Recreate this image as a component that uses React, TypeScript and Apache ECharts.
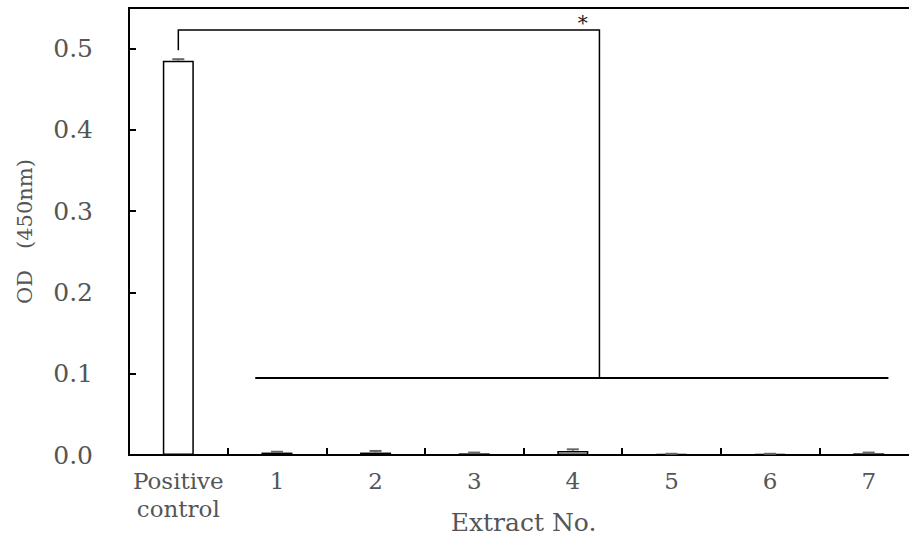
import React, { useEffect, useRef } from "react";
import * as echarts from "echarts";

// OD readings (450 nm) per sample, with their standard deviations
const categories = ["Positive\ncontrol", "1", "2", "3", "4", "5", "6", "7"];
const odMeans = [0.485, 0.003, 0.003, 0.002, 0.005, 0.001, 0.001, 0.002];
const odErrors = [0.002, 0.001, 0.002, 0.001, 0.002, 0.0005, 0.0005, 0.001];

// y-axis range and tick step
const yMin = 0;
const yMax = 0.55;
const yStep = 0.1;

// significance bracket: positive control vs. the extract group
// (x in category-index units, fractional values fall between categories)
const bracketPath = [
  [0, 0.498],
  [0, 0.523],
  [4.27, 0.523],
  [4.27, 0.0947],
];
const groupLine = [
  [0.78, 0.0947],
  [7.2, 0.0947],
];
const starPoint = [4.1, 0.531];

const FONT = "DejaVu Serif";
const TEXT_COLOR = "#555";

// Map a (fractional category index, value) pair to pixels via the axes
function toPixel(api: any, x: number, y: number): number[] {
  const i0 = Math.floor(x);
  const f = x - i0;
  const a = api.coord([i0, y]);
  const b = api.coord([i0 + 1, y]);
  return [a[0] + (b[0] - a[0]) * f, a[1]];
}

export default function App() {
  const ref = useRef<HTMLDivElement>(null);

  useEffect(() => {
    if (!ref.current) return;
    const chart = echarts.init(ref.current, undefined, { renderer: "svg" });

    const option: any = {
      animation: false,
      backgroundColor: "#fff",
      grid: {
        left: 129,
        top: 8,
        right: -9,
        bottom: 86,
        outerBoundsMode: "none",
        containLabel: false,
        show: true,
        borderColor: "#000",
        borderWidth: 2,
        backgroundColor: "transparent",
      },
      xAxis: {
        type: "category",
        data: categories,
        name: "Extract No.",
        nameLocation: "middle",
        nameGap: 55,
        nameMoveOverlap: false,
        nameTextStyle: { fontFamily: FONT, fontSize: 25, color: TEXT_COLOR },
        axisLine: { lineStyle: { color: "#000", width: 2 } },
        axisTick: { show: true, interval: 0, inside: true, length: 7, lineStyle: { color: "#000", width: 2 } },
        axisLabel: {
          fontFamily: FONT,
          fontSize: 23,
          color: TEXT_COLOR,
          margin: 12,
          lineHeight: 28,
          interval: 0,
        },
        splitLine: { show: false },
      },
      yAxis: {
        type: "value",
        min: yMin,
        max: yMax,
        interval: yStep,
        name: "OD\u3000(450nm)",
        nameLocation: "middle",
        nameGap: 94,
        nameRotate: 90,
        nameMoveOverlap: false,
        nameTextStyle: { fontFamily: FONT, fontSize: 21, color: TEXT_COLOR },
        axisLine: { show: true, onZero: false, lineStyle: { color: "#000", width: 2 } },
        axisTick: { show: true, inside: true, length: 7, lineStyle: { color: "#000", width: 2 } },
        axisLabel: {
          fontFamily: FONT,
          fontSize: 25,
          color: TEXT_COLOR,
          margin: 36,
          showMaxLabel: false,
          formatter: (v: number) => v.toFixed(1),
        },
        splitLine: { show: false },
      },
      series: [
        {
          type: "bar",
          data: odMeans,
          barWidth: 31,
          itemStyle: { color: "#fff", borderColor: "#000", borderWidth: 1.5 },
          z: 2,
        },
        {
          // error bars
          type: "custom",
          data: odMeans.map((m, i) => [i, m, odErrors[i]]),
          z: 3,
          renderItem: (params: any, api: any) => {
            const x = api.value(0);
            const mean = api.value(1);
            const err = api.value(2);
            const top = api.coord([x, mean + err]);
            const base = api.coord([x, mean]);
            const half = 6;
            return {
              type: "group",
              children: [
                {
                  type: "line",
                  shape: { x1: top[0], y1: top[1], x2: base[0], y2: base[1] },
                  style: { stroke: "#666", lineWidth: 1.5 },
                },
                {
                  type: "line",
                  shape: { x1: top[0] - half, y1: top[1], x2: top[0] + half, y2: top[1] },
                  style: { stroke: "#666", lineWidth: 2 },
                },
              ],
            };
          },
        },
        {
          // significance bracket, group line and star
          type: "custom",
          data: [[0, 0]],
          z: 4,
          clip: false,
          renderItem: (params: any, api: any) => {
            const bracket = bracketPath.map((p) => toPixel(api, p[0], p[1]));
            const group = groupLine.map((p) => toPixel(api, p[0], p[1]));
            const star = toPixel(api, starPoint[0], starPoint[1]);
            return {
              type: "group",
              children: [
                {
                  type: "polyline",
                  shape: { points: bracket },
                  style: { stroke: "#000", lineWidth: 1.5, fill: "none" },
                },
                {
                  type: "polyline",
                  shape: { points: group },
                  style: { stroke: "#000", lineWidth: 2, fill: "none" },
                },
                {
                  type: "text",
                  x: star[0],
                  y: star[1],
                  style: {
                    text: "*",
                    fontFamily: FONT,
                    fontSize: 20,
                    fill: "#222",
                    align: "center",
                    verticalAlign: "middle",
                  },
                },
              ],
            };
          },
        },
      ],
    };

    chart.setOption(option);
    return () => chart.dispose();
  }, []);

  return (
    <div
      ref={ref}
      style={{ position: "fixed", left: 0, top: 0, width: 909, height: 541, background: "#fff" }}
    />
  );
}
